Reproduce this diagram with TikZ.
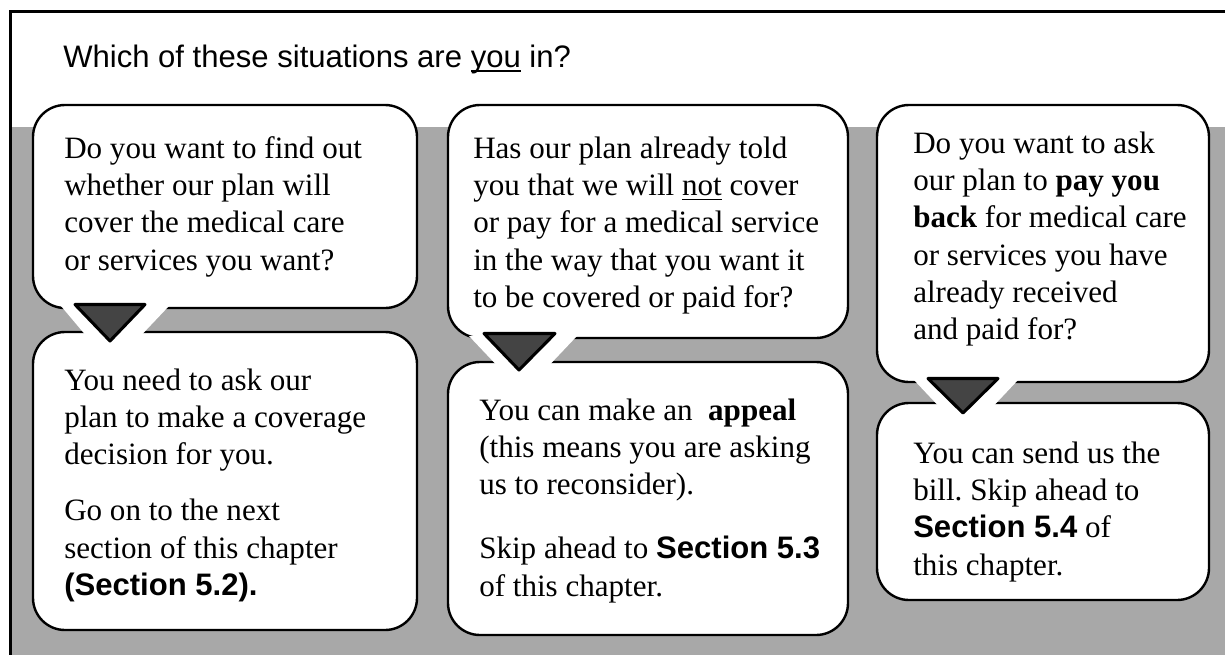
\documentclass[tikz,border=0pt]{standalone}
\usepackage{fontspec}
\setmainfont{Liberation Serif}
\setsansfont{Liberation Sans}
\usetikzlibrary{calc}
\definecolor{bggray}{HTML}{A8A8A8}
\definecolor{tailgray}{HTML}{444444}
\newcommand\myul[1]{\setbox0\hbox{#1}\rlap{\rule[-3.8pt]{\wd0}{1.3pt}}\box0\relax}
\newcommand\secbf[1]{{\sffamily\bfseries #1}}
\frenchspacing
\begin{document}
\begin{tikzpicture}[x=0.75pt,y=-0.75pt,
  bubble/.style={draw=black, line width=1.8pt, fill=white, rounded corners=24pt, inner sep=0pt},
  txt/.style={anchor=base west, inner sep=0pt, font=\fontsize{23.3pt}{28pt}\selectfont\frenchspacing},
  tailtri/.style={draw=black, fill=tailgray, line width=2.3pt, line join=round},
  wedge/.style={fill=white, draw=none},
]
\useasboundingbox (0,0) rectangle (1225,654);
% background
\fill[bggray] (12,127) rectangle (1226,655);
\draw[line width=2.6pt] (10.5,660) -- (10.5,11.5) -- (1230,11.5);
% title
\node[txt, font=\sffamily\fontsize{23.3pt}{28pt}\selectfont] (title) at (63,67) {Which of these situations are \myul{you} in?};
% bubbles
\node[bubble, minimum width=384*0.75pt, minimum height=203*0.75pt] (b1) at (225,206.5) {};
\node[bubble, minimum width=384*0.75pt, minimum height=298*0.75pt] (b2) at (225,481) {};
\node[bubble, minimum width=400*0.75pt, minimum height=233*0.75pt] (b3) at (648,221.5) {};
\node[bubble, minimum width=400*0.75pt, minimum height=273*0.75pt] (b4) at (648,498.5) {};
\node[bubble, minimum width=332*0.75pt, minimum height=277*0.75pt] (b5) at (1043,243.5) {};
\node[bubble, minimum width=332*0.75pt, minimum height=197*0.75pt] (b6) at (1043,501.5) {};
% tails (white wedges joining the bubbles)
\fill[wedge] (61,306) -- (169,306) -- (142,334.5) -- (85,334.5) -- cycle;
\fill[wedge] (469,336) -- (577,336) -- (550,364.5) -- (496,364.5) -- cycle;
\fill[wedge] (913,379) -- (1019,379) -- (994,405.5) -- (938,405.5) -- cycle;
% triangles
\coordinate (p1) at (110,341);
\coordinate (p2) at (519,370);
\coordinate (p3) at (963,413);
\draw[tailtri] (75,304.5) -- (145,304.5) -- (p1) -- cycle;
\draw[tailtri] (484,333.5) -- (555,333.5) -- (p2) -- cycle;
\draw[tailtri] (928,378.5) -- (998,378.5) -- (p3) -- cycle;
% texts
\node[txt] (q1) at (64,158) {\parbox[t]{380pt}{\raggedright
Do you want to find out\\whether our plan will\\cover the medical care\\or services you want?}};
\node[txt] (a1) at (64,390) {\parbox[t]{380pt}{\raggedright
You need to ask our\\plan to make a coverage\\decision for you.\\[14pt]Go on to the next\\section of this chapter\\\secbf{(Section 5.2).}}};
\node[txt] (q2) at (473,158) {\parbox[t]{380pt}{\raggedright
Has our plan already told\\you that we will \myul{not} cover\\or pay for a medical service\\in the way that you want it\\to be covered or paid for?}};
\node[txt] (a2) at (479,420) {\parbox[t]{380pt}{\raggedright
You can make an\ \ \textbf{appeal}\\(this means you are asking\\us to reconsider).\\[20pt]Skip ahead to \secbf{Section 5.3}\\of this chapter.}};
\node[txt] (q3) at (913,153) {\parbox[t]{380pt}{\raggedright
Do you want to ask\\our plan to \textbf{pay you}\\\textbf{back} for medical care\\or services you have\\already received\\and paid for?}};
\node[txt] (a3) at (913,463) {\parbox[t]{380pt}{\raggedright
You can send us the\\bill. Skip ahead to\\\secbf{Section 5.4} of\\this chapter.}};
\end{tikzpicture}
\end{document}
